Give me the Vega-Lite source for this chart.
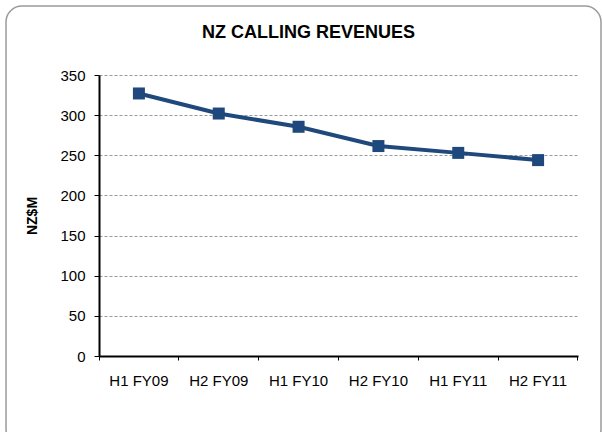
{
  "$schema": "https://vega.github.io/schema/vega-lite/v6.json",
  "width": 479,
  "height": 281,
  "autosize": {"type": "none"},
  "padding": {"left": 99, "top": 75, "right": 24, "bottom": 76},
  "background": "white",
  "config": {"font": "Liberation Sans", "view": {"stroke": null}},
  "title": {"text": "NZ CALLING REVENUES", "fontSize": 18, "fontWeight": "bold", "color": "black", "anchor": "middle", "frame": "group", "dx": -30, "offset": -37},
  "data": {"values": [
    {"period": "H1 FY09", "value": 327},
    {"period": "H2 FY09", "value": 302},
    {"period": "H1 FY10", "value": 285.5},
    {"period": "H2 FY10", "value": 261.5},
    {"period": "H1 FY11", "value": 253},
    {"period": "H2 FY11", "value": 244}
  ]},
  "layer": [
    {
      "data": {"values": [{}]},
      "mark": {"type": "rect", "filled": false, "stroke": "#9a9a9a", "strokeWidth": 1.5, "cornerRadius": 16},
      "encoding": {"x": {"value": -93}, "x2": {"value": 502}, "y": {"value": -69}, "y2": {"value": 370}}
    },
    {
      "mark": {"type": "line", "color": "#1F497D", "strokeWidth": 4},
      "encoding": {
        "x": {"field": "period", "type": "nominal", "sort": null,
          "scale": {"type": "band", "paddingInner": 0, "paddingOuter": 0},
          "axis": {"orient": "bottom", "title": null, "labelAngle": 0, "labelFontSize": 15, "labelColor": "black", "labelPadding": 17, "ticks": false, "tickSize": 0, "domain": true, "domainColor": "black", "domainWidth": 2, "grid": false}},
        "y": {"field": "value", "type": "quantitative",
          "scale": {"domain": [0, 350], "nice": false},
          "axis": {"title": "NZ$M", "titleFontSize": 14, "titleFontWeight": "bold", "titleColor": "black", "titlePadding": 20,
            "values": [0, 50, 100, 150, 200, 250, 300, 350], "labelFontSize": 15, "labelColor": "black", "labelPadding": 9,
            "tickSize": 5, "tickColor": "black", "domainColor": "black", "domainWidth": 2,
            "grid": true, "gridColor": "#999999", "gridDash": [3, 2], "gridWidth": 1}}
      }
    },
    {
      "mark": {"type": "point", "shape": "square", "filled": true, "size": 144, "color": "#1F497D", "opacity": 1},
      "encoding": {
        "x": {"field": "period", "type": "nominal", "sort": null,
          "axis": {"orient": "bottom", "title": null, "bandPosition": 0, "labels": false, "domain": false, "ticks": true, "tickSize": 4, "tickColor": "black", "grid": false}},
        "y": {"field": "value", "type": "quantitative"}
      }
    },
    {
      "mark": {"type": "point", "opacity": 0},
      "encoding": {
        "x": {"field": "period", "type": "nominal", "sort": null,
          "axis": {"orient": "bottom", "title": null, "values": ["H2 FY11"], "bandPosition": 1, "labels": false, "domain": false, "ticks": true, "tickSize": 4, "tickColor": "black", "grid": false}},
        "y": {"field": "value", "type": "quantitative"}
      }
    }
  ],
  "resolve": {"axis": {"x": "independent"}}
}
